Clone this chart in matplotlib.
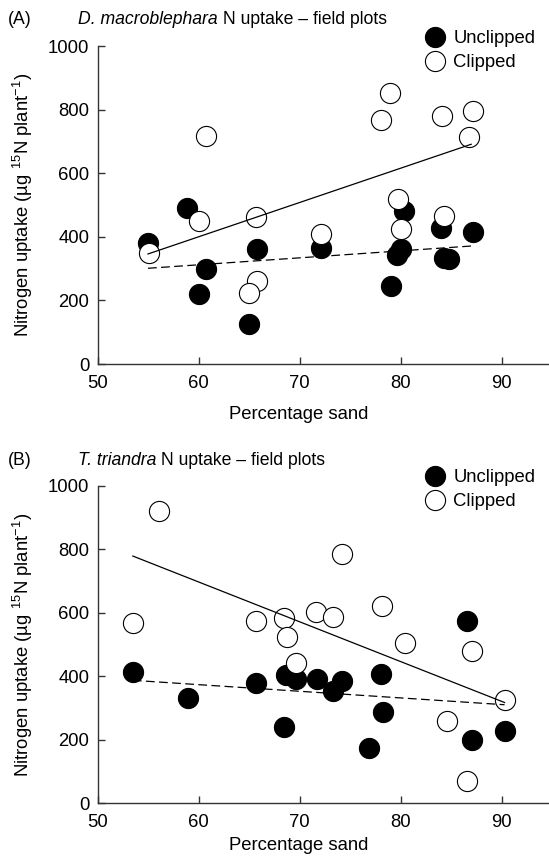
import matplotlib
matplotlib.use("Agg")
import matplotlib.pyplot as plt
from matplotlib.lines import Line2D

plt.rcParams["font.family"] = ["Liberation Sans", "DejaVu Sans"]
plt.rcParams["font.size"] = 13.3
plt.rcParams["mathtext.fontset"] = "custom"
plt.rcParams["mathtext.rm"] = "Liberation Sans"
plt.rcParams["mathtext.it"] = "Liberation Sans:italic"

# ---- panel A data: D. macroblephara
a_unclip_x = [55.0, 58.9, 60.7, 60.0, 65.8, 65.0, 72.1, 80.3, 84.0, 87.2, 80.0, 79.7, 84.3, 84.8, 79.1]
a_unclip_y = [380, 490, 300, 220, 362, 126, 366, 482, 427, 414, 361, 343, 334, 330, 246]
a_clip_x = [55.1, 60.7, 60.0, 65.7, 65.8, 65.0, 72.1, 79.0, 78.1, 84.1, 87.2, 86.8, 79.8, 80.0, 84.3]
a_clip_y = [350, 718, 451, 461, 262, 224, 408, 851, 767, 780, 796, 715, 518, 424, 465]
a_fit_x = [55.0, 87.0]
a_fit_clip = [346, 691]
a_fit_unclip = [301, 371]

# ---- panel B data: T. triandra
b_unclip_x = [53.5, 59.0, 65.7, 68.5, 68.7, 69.7, 71.7, 73.3, 74.2, 78.1, 78.3, 76.9, 86.6, 87.1, 90.3]
b_unclip_y = [413, 330, 378, 240, 405, 392, 390, 353, 385, 407, 288, 172, 573, 200, 227]
b_clip_x = [56.1, 53.5, 65.7, 68.5, 68.8, 69.7, 71.6, 73.3, 74.2, 78.2, 80.4, 87.1, 90.3, 84.6, 86.6]
b_clip_y = [922, 569, 575, 585, 524, 441, 601, 587, 787, 621, 505, 481, 324, 258, 69]
b_fit_x = [53.5, 90.3]
b_fit_clip = [779, 317]
b_fit_unclip = [387, 310]

xticks = [50, 60, 70, 80, 90]
yticks = [0, 200, 400, 600, 800, 1000]

W, H = 549, 858
fig = plt.figure(figsize=(W / 100, H / 100), dpi=100)

# tag, species, axes top/bottom px, title y px, legend y px, xlabel pad
panels = [
    ("(A)", "D. macroblephara", 46, 364, 20, 36, 10,
     a_unclip_x, a_unclip_y, a_clip_x, a_clip_y, a_fit_x, a_fit_clip, a_fit_unclip),
    ("(B)", "T. triandra", 486, 803, 460, 475, 4,
     b_unclip_x, b_unclip_y, b_clip_x, b_clip_y, b_fit_x, b_fit_clip, b_fit_unclip),
]

msize = 14.5
for (tag, species, ytop, ybot, ytitle, yleg, xpad,
     ux, uy, cx, cy, fx, fclip, funclip) in panels:
    left = 97.5 / W
    ax = fig.add_axes([left, 1 - ybot / H, 1 - left, (ybot - ytop) / H])
    ax.scatter(ux, uy, s=msize ** 2, c="black", edgecolors="black", linewidths=0.8, zorder=2)
    ax.scatter(cx, cy, s=msize ** 2, c="white", edgecolors="black", linewidths=0.8, zorder=3)
    ax.plot(fx, fclip, color="black", lw=0.9, zorder=4)
    ax.plot(fx, funclip, color="black", lw=0.9, linestyle=(0, (7, 3.5)), zorder=4)

    ax.set_xlim(50, 50 + (W - 97.5) / 10.1)
    ax.set_ylim(0, 1000)
    ax.set_xticks(xticks)
    ax.set_yticks(yticks)
    ax.spines["top"].set_visible(False)
    ax.spines["right"].set_visible(False)
    for sp in ("left", "bottom"):
        ax.spines[sp].set_linewidth(1.0)
        ax.spines[sp].set_color("#333333")
    ax.tick_params(direction="in", length=5, width=1.0, color="#333333", labelsize=13.3)
    ax.tick_params(axis="x", pad=8)
    ax.tick_params(axis="y", pad=6)
    ax.set_xlabel("Percentage sand", x=(299 - 97.5) / (W - 97.5), labelpad=xpad)
    ax.set_ylabel(r"Nitrogen uptake (µg $^{15}$N plant$^{-1}$)", labelpad=9)

    fig.text(8 / W, 1 - ytitle / H, tag, va="center", ha="left", fontsize=12.7)
    t1 = fig.text(78 / W, 1 - ytitle / H, species, style="italic", va="center",
                  ha="left", fontsize=12.7)
    ax.annotate(" N uptake \u2013 field plots", xy=(1, 0), xycoords=t1,
                va="bottom", ha="left", fontsize=12.7)

    handles = [
        Line2D([], [], marker="o", ls="none", ms=msize, mfc="black", mec="black", mew=0.8),
        Line2D([], [], marker="o", ls="none", ms=msize, mfc="white", mec="black", mew=0.8),
    ]
    ax.legend(handles, ["Unclipped", "Clipped"], loc="upper left",
              bbox_to_anchor=(425.5 / W, 1 - (yleg - 6) / H), bbox_transform=fig.transFigure,
              frameon=False, borderpad=0, borderaxespad=0, handlelength=1.0,
              handletextpad=0.5, labelspacing=0.4, fontsize=13.3)

fig.savefig("out.png", dpi=100)
